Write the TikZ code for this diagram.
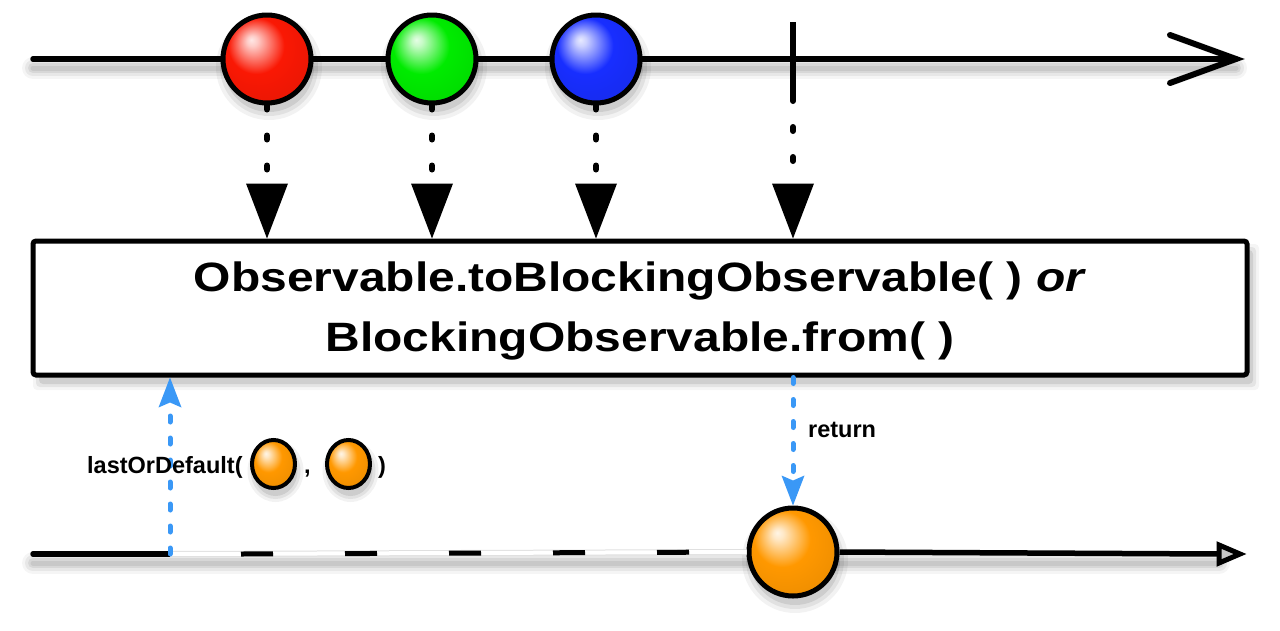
\documentclass[tikz,border=0pt]{standalone}
\usepackage{fontspec}
\setmainfont{Liberation Sans}
\newfontfamily\widefont[FakeStretch=1.17]{Liberation Sans}
\usetikzlibrary{arrows.meta,shapes.geometric}
\definecolor{ballc}{RGB}{255,0,0}
\definecolor{rbase}{RGB}{250,24,4}
\definecolor{gbase}{RGB}{0,235,0}
\definecolor{bbase}{RGB}{24,46,255}
\definecolor{obase}{RGB}{255,152,0}
\definecolor{arrblue}{RGB}{58,152,246}
\pgfdeclareradialshading[ballc]{gloss}{\pgfqpoint{-9bp}{11bp}}{%
  color(0bp)=(ballc!10!white); color(3bp)=(ballc!22!white);
  color(16bp)=(ballc); color(30bp)=(ballc!94!black);
  color(40bp)=(ballc!68!black); color(50bp)=(ballc!60!black)}
\tikzset{
  bcol/.code={\colorlet{ballc}{#1}},
  marble/.style={circle, draw=black, line width=5pt, inner sep=0pt,
    minimum size=88pt, shading=gloss, bcol=#1},
  minimarble/.style={ellipse, draw=black, line width=4pt, inner sep=0pt,
    minimum width=43pt, minimum height=48pt, shading=gloss, bcol=#1},
  timeline/.style={line width=5.5pt, line cap=round},
  blackdots/.style={line width=6pt, line cap=round, dash pattern=on 4pt off 26pt,
    -{Triangle[length=55pt, width=42pt, line width=0pt]}},
  bluedots/.style={draw=arrblue, line width=5pt, line cap=round,
    dash pattern=on 6pt off 16pt,
    -{Stealth[length=30pt, width=23pt, inset=5pt, line width=0pt]}},
  optext/.style={font=\widefont\bfseries\fontsize{41}{60}\selectfont, anchor=base, inner sep=0pt},
  smalltext/.style={font=\bfseries\fontsize{23.5}{28}\selectfont, anchor=base west, inner sep=0pt},
}
\newcommand\lineshadow[2]{%
  \foreach \w/\o in {22/0.04,16/0.06,10/0.07,5/0.07}
    \draw[line width=\w pt, black, opacity=\o, line cap=round] ([yshift=-9pt]#1) -- ([yshift=-9pt]#2);}
\newcommand\ballshadow[2]{%
  \foreach \r/\o in {53/0.05,49/0.07,45/0.09}
    \fill[black, opacity=\o] ([xshift=2pt,yshift=-8pt]#1) circle (#2*\r pt);}
\begin{document}
\begin{tikzpicture}[x=1pt, y=-1pt]
\useasboundingbox (0,0) rectangle (1280,630);

% ---------- top timeline ----------
\coordinate (tstart) at (33,59);
\coordinate (tend) at (1236,59);
\lineshadow{tstart}{tend}
\ballshadow{267,59}{1}
\ballshadow{432,59}{1}
\ballshadow{596,59}{1}
\draw[timeline] (tstart) -- (tend);
\draw[line width=6pt, line join=miter, line cap=round] (1170,35) -- (tend) -- (1170,83);
\coordinate (tickbot) at (793,97);
\draw[timeline, line cap=butt] (793,22) -- (tickbot);

\node[marble=rbase] (red) at (267,59) {};
\node[marble=gbase] (green) at (432,59) {};
\node[marble=bbase] (blue) at (596,59) {};

% ---------- operator box ----------
\foreach \e/\o in {6/0.04,3/0.07,0/0.09}
  \fill[black, opacity=\o, rounded corners=4pt] (33+6-\e,241+9-\e) rectangle (1247+6+\e,375+9+\e);
\node[draw, line width=5pt, rounded corners=3pt, fill=white, inner sep=0pt,
      minimum width=1214pt, minimum height=134pt] (box) at (640,308) {};
\node[optext] (l1) at (640,291) {Observable.toBlockingObservable( ) \textit{or}};
\node[optext] (l2) at (640,351) {BlockingObservable.from( )};

% ---------- emissions into the operator ----------
\draw[blackdots] (red.south) -- (red.south |- box.north);
\draw[blackdots] (green.south) -- (green.south |- box.north);
\draw[blackdots] (blue.south) -- (blue.south |- box.north);
\draw[blackdots] (tickbot) -- (tickbot |- box.north);

% ---------- bottom timeline ----------
\coordinate (bstart) at (33,554);
\coordinate (ld) at (170,554);
\coordinate (bend) at (1219,554);
\lineshadow{bstart}{bend}
\ballshadow{793,552}{1}
\draw[timeline] (bstart) -- (ld);
\node[marble=obase] (res) at (793,552) {};
\draw[line width=6pt, black!12] (ld) -- (res.west);
\draw[line width=4pt, white] (ld) -- (res.west);
\draw[line width=5pt, dash pattern=on 32pt off 72pt] (241,554) -- (res.west);
\draw[timeline, line cap=butt] (res.east) -- (bend);
\draw[line width=5pt, line join=miter, fill=black!22] (1219,545) -- (1240,554) -- (1219,563) -- cycle;

% ---------- blue calls ----------
\draw[bluedots] (ld) -- (ld |- box.south);
\draw[bluedots] (box.south -| res) -- (res.north);
\node[smalltext] (ret) at (808,437) {return};

\node[smalltext] (call) at (87,473) {lastOrDefault(};
\foreach \c in {273.5,348.5}
  \foreach \r/\o in {28/0.05,25/0.07,22/0.09}
    \fill[black, opacity=\o] (\c+2,464+7) ellipse (\r pt and \r pt+3pt);
\node[minimarble=obase] (arg1) at (273.5,464) {};
\node[smalltext] (comma) at (304,473) {,};
\node[minimarble=obase] (arg2) at (348.5,464) {};
\node[smalltext] (close) at (378,473) {)};
\end{tikzpicture}
\end{document}
